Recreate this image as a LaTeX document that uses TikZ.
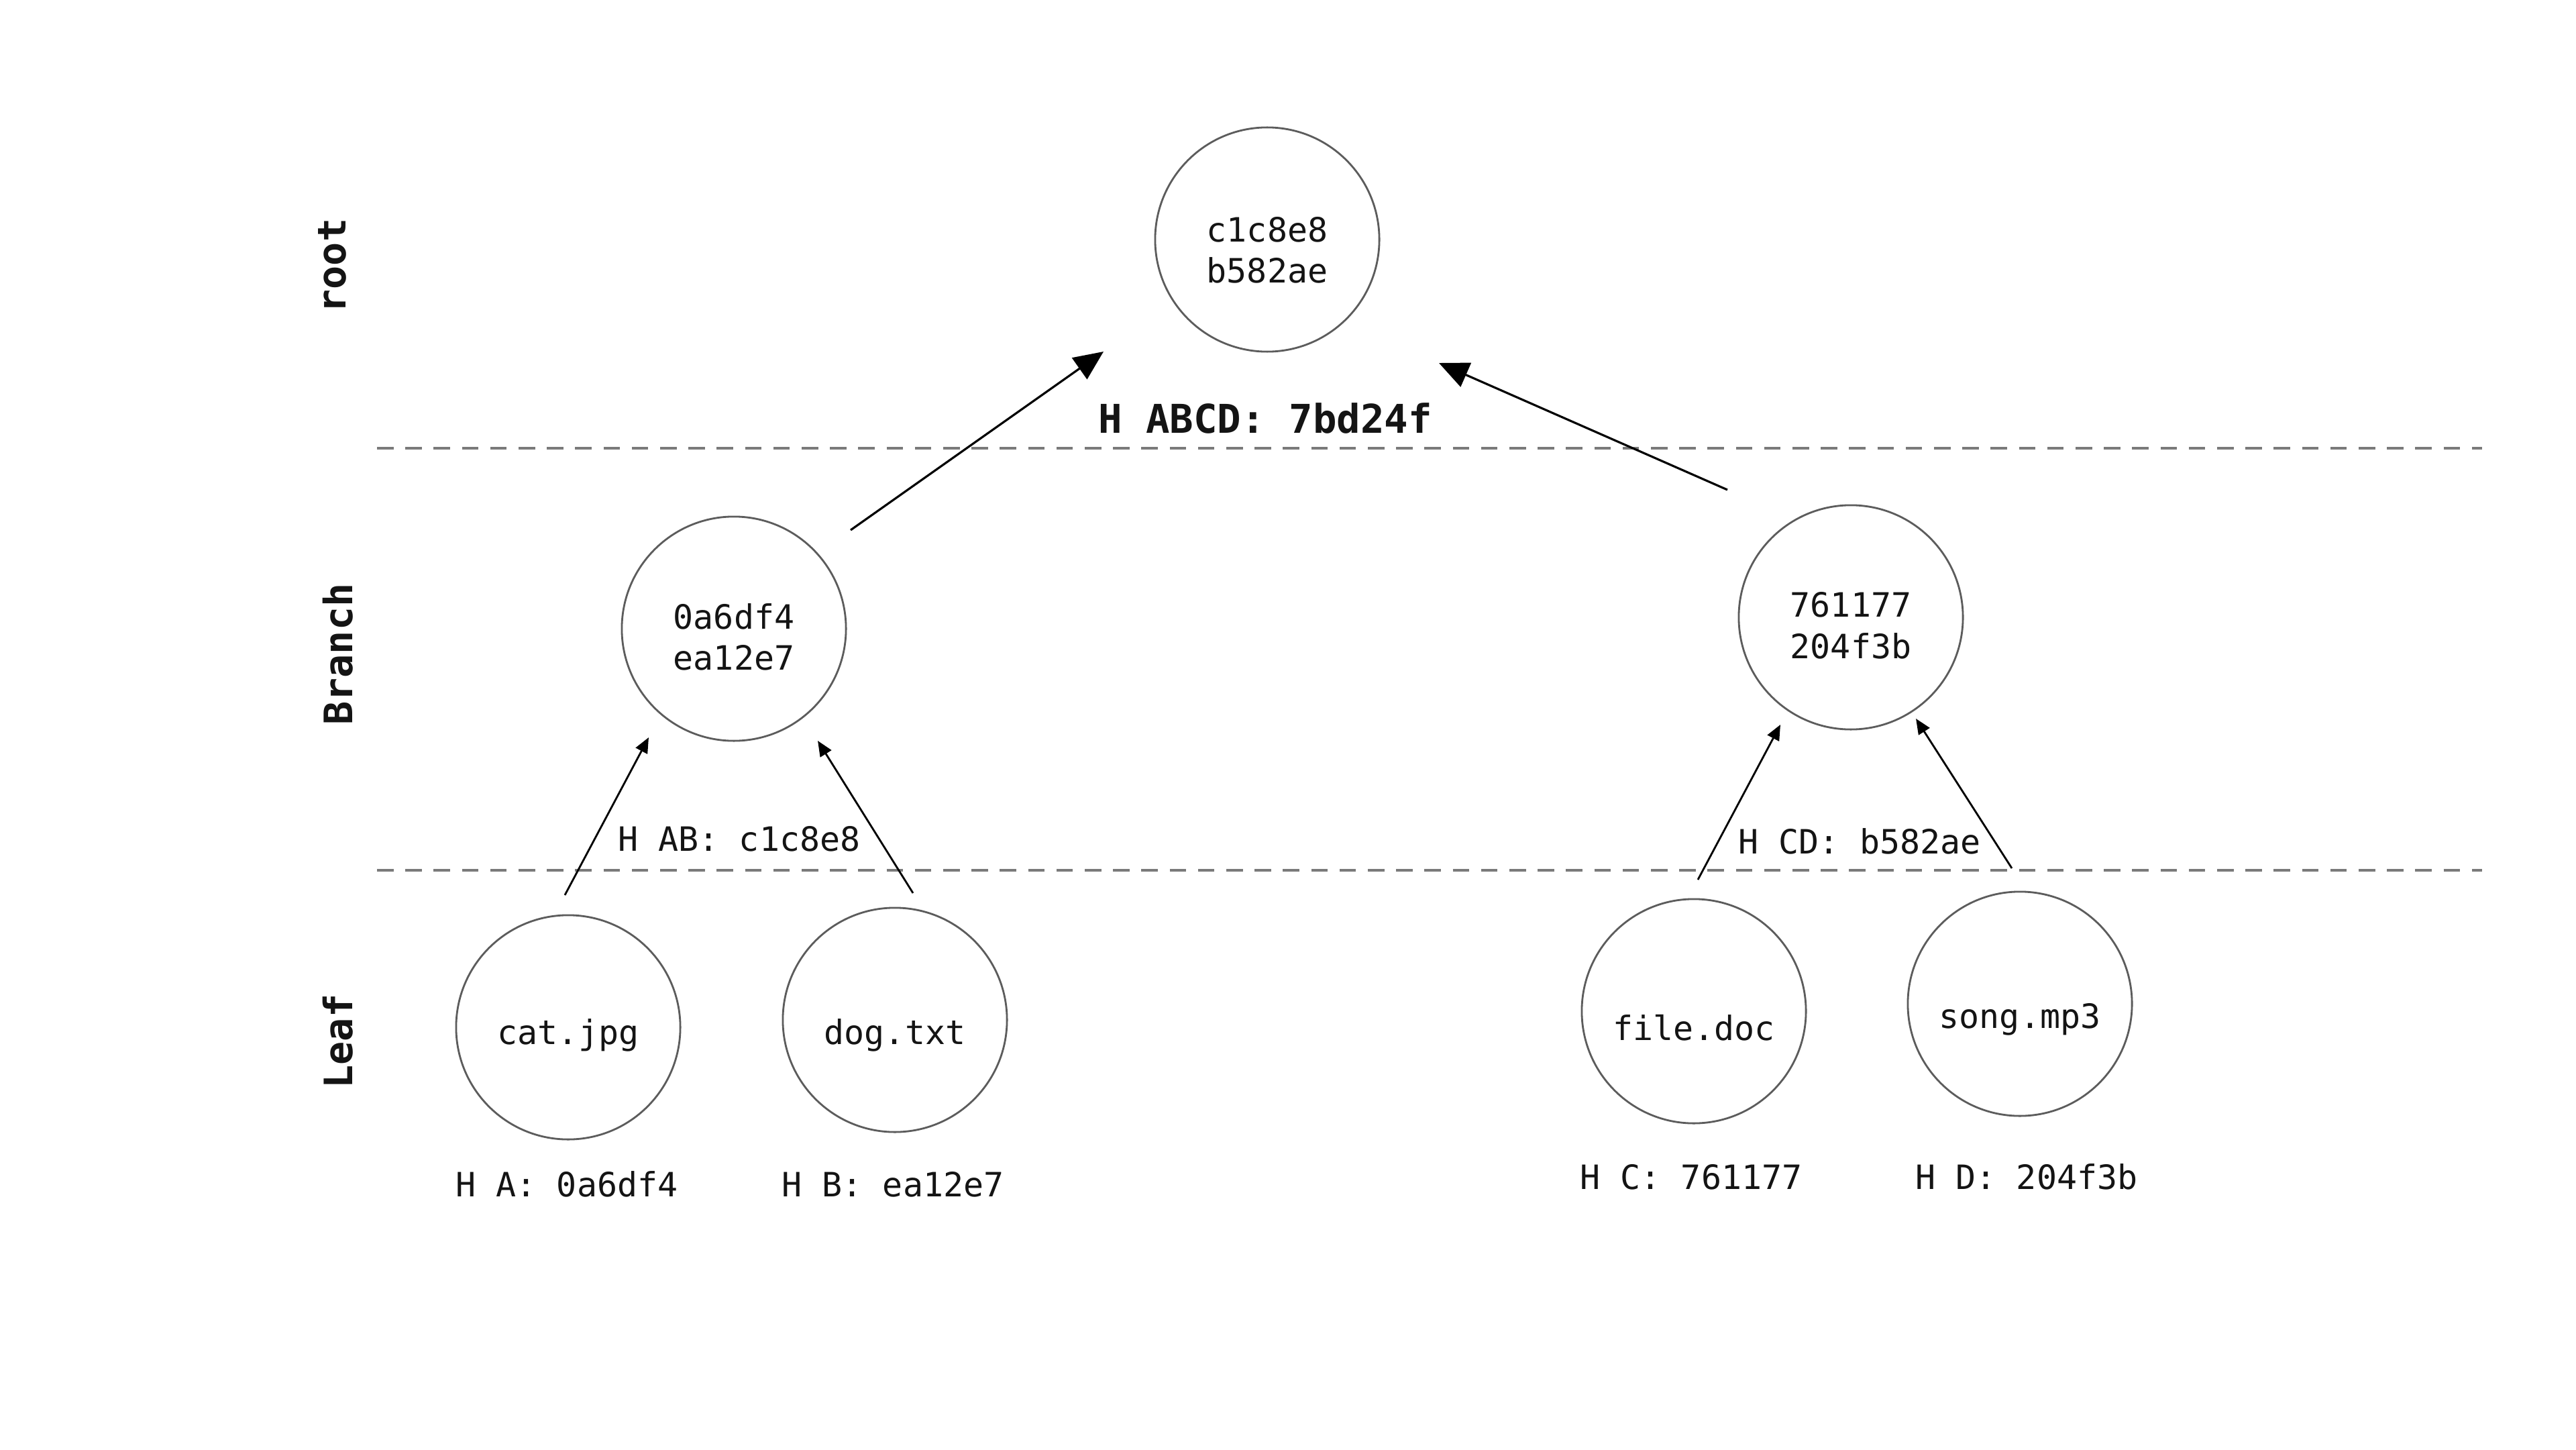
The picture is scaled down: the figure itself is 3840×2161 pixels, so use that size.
\documentclass[tikz,border=0pt]{standalone}
\usepackage{fontspec}
\setmonofont{DejaVu Sans Mono}
\usetikzlibrary{arrows.meta}
\definecolor{circgray}{HTML}{5C5C5C}
\definecolor{dashgray}{HTML}{7A7A7A}
\definecolor{inkblack}{HTML}{141414}
\begin{document}
\begin{tikzpicture}[x=0.01cm,y=-0.01cm,
  hashnode/.style={circle, draw=circgray, line width=0.8pt, minimum size=3.34cm, inner sep=0pt},
  hashtext/.style={align=center, text=inkblack, inner sep=0pt,
    font=\ttfamily\fontsize{14.2}{17.5}\selectfont},
  hashlabel/.style={anchor=base, text=inkblack, inner sep=0pt, font=\ttfamily\fontsize{14.2}{17}\selectfont},
  toplabel/.style={anchor=base, text=inkblack, inner sep=0pt, font=\ttfamily\bfseries\fontsize{16.8}{19}\selectfont},
  levellabel/.style={anchor=base, rotate=90, text=inkblack, inner sep=0pt, font=\ttfamily\bfseries\fontsize{16.6}{18}\selectfont},
  levelline/.style={draw=dashgray, line width=0.9pt, dash pattern=on 7pt off 5pt},
  bigarrow/.style={draw=black, line width=0.9pt, -{Triangle[length=12.5pt,width=11pt]}},
  smallarrow/.style={draw=black, line width=0.8pt, -{Triangle[length=6.5pt,width=5.5pt]}}
]
\useasboundingbox (0,0) rectangle (3840,2161);

% level separators
\coordinate (l1a) at (562,668);
\coordinate (l1b) at (3700,668);
\coordinate (l2a) at (562,1297);
\coordinate (l2b) at (3700,1297);
\draw[levelline] (l1a) -- (l1b);
\draw[levelline] (l2a) -- (l2b);

% level labels
\node[levellabel] (lvroot) at (515,396) {root};
\node[levellabel] (lvbranch) at (525,975) {Branch};
\node[levellabel] (lvleaf) at (525,1552) {Leaf};

% nodes
\node[hashnode, label={[hashtext, yshift=-4.5pt]center:{c1c8e8\\b582ae}}] (root) at (1889,357) {};
\node[hashnode, label={[hashtext, yshift=-3.5pt]center:{0a6df4\\ea12e7}}] (bl) at (1094,937) {};
\node[hashnode, label={[hashtext, yshift=-3.5pt]center:{761177\\204f3b}}] (br) at (2759,920) {};
\node[hashnode, label={[hashtext, yshift=-3.4pt]center:{cat.jpg}}] (cat) at (847,1531) {};
\node[hashnode, label={[hashtext, yshift=-6.5pt]center:{dog.txt}}] (dog) at (1334,1520) {};
\node[hashnode, label={[hashtext, yshift=-7pt]center:{file.doc}}] (file) at (2525,1507) {};
\node[hashnode, label={[hashtext, yshift=-6.5pt]center:{song.mp3}}] (song) at (3011,1496) {};

% hash labels
\node[toplabel] (habcd) at (1886,645) {H ABCD: 7bd24f};
\node[hashlabel] (hab) at (1102,1268) {H AB: c1c8e8};
\node[hashlabel] (hcd) at (2772,1272) {H CD: b582ae};
\node[hashlabel] (ha) at (845,1783) {H A: 0a6df4};
\node[hashlabel] (hb) at (1331,1783) {H B: ea12e7};
\node[hashlabel] (hc) at (2521,1772) {H C: 761177};
\node[hashlabel] (hd) at (3021,1772) {H D: 204f3b};

% arrow end points
\coordinate (blout) at (1268,790);
\coordinate (rootinl) at (1645,524);
\coordinate (brout) at (2575,730);
\coordinate (rootinr) at (2145,541);
\coordinate (catout) at (842,1334);
\coordinate (blinl) at (967,1099);
\coordinate (dogout) at (1361,1331);
\coordinate (blinr) at (1219,1104);
\coordinate (fileout) at (2531,1311);
\coordinate (brinl) at (2654,1080);
\coordinate (songout) at (2999,1294);
\coordinate (brinr) at (2856,1071);

\draw[bigarrow] (blout) -- (rootinl);
\draw[bigarrow] (brout) -- (rootinr);
\draw[smallarrow] (catout) -- (blinl);
\draw[smallarrow] (dogout) -- (blinr);
\draw[smallarrow] (fileout) -- (brinl);
\draw[smallarrow] (songout) -- (brinr);
\end{tikzpicture}
\end{document}
